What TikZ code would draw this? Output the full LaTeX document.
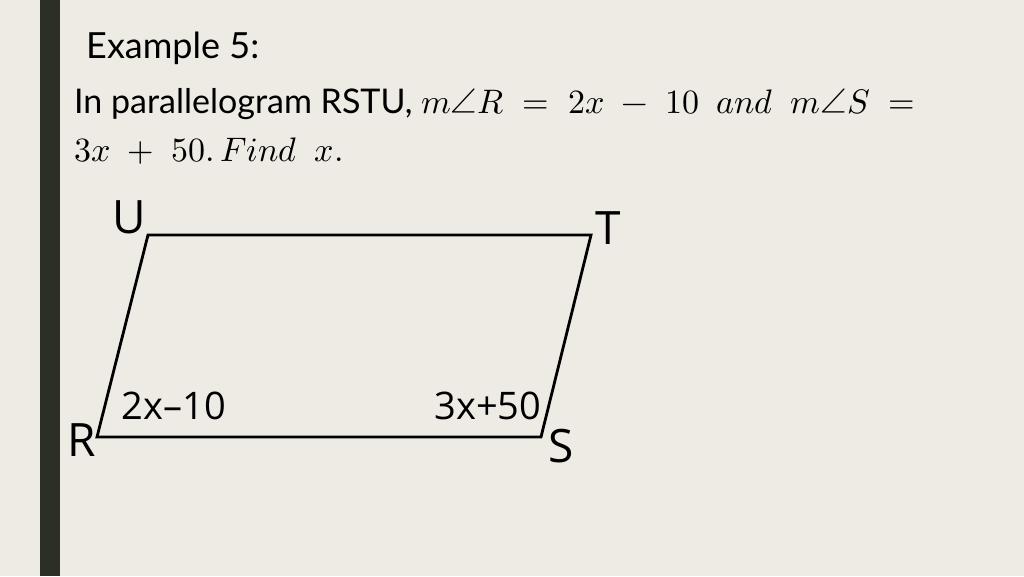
\documentclass[tikz,border=0pt]{standalone}
\usepackage{unicode-math}
\setmainfont{Lato}
\setmathfont{Latin Modern Math}
\newfontfamily\hand{Open Sans}
\definecolor{bg}{HTML}{EEEBE4}
\definecolor{bar}{HTML}{2B2F24}
\begin{document}
\begin{tikzpicture}[x=1pt,y=-1pt,
  lab/.style={font=\hand\fontsize{46}{46}\selectfont, inner sep=0pt},
  ang/.style={font=\hand\fontsize{38}{38}\selectfont, inner sep=0pt},
  txt/.style={font=\fontsize{34}{40}\selectfont, anchor=west, inner sep=0pt}]
\fill[bg] (0,0) rectangle (1024,576);
\useasboundingbox (0,0) rectangle (1024,576);
\fill[bar] (40,0) rectangle (60,576);
\node[txt, font=\fontsize{36}{40}\selectfont] (title) at (86,48) {Example 5:};
\node[txt] (l1) at (74,104) {In parallelogram RSTU, $m\angle R \;=\; 2x \;-\; 10\ \ and\ \ m\angle S \;=$};
\node[txt] (l2) at (74,151) {$3x \;+\; 50.\,Find\ \ x.$};
\coordinate (R) at (97,437);
\coordinate (S) at (541,437);
\coordinate (T) at (591,235);
\coordinate (U) at (148,235);
\draw[line width=2.8pt, line join=miter] (R) -- (S) -- (T) -- (U) -- cycle;
\node[lab] (nU) at (129,217) {U};
\node[lab] (nT) at (608,228) {T};
\node[lab] (nR) at (82,440) {R};
\node[lab] (nS) at (561,446) {S};
\node[ang] (aR) at (174,406) {2x–10};
\node[ang] (aS) at (488,406) {3x+50};
\end{tikzpicture}
\end{document}
